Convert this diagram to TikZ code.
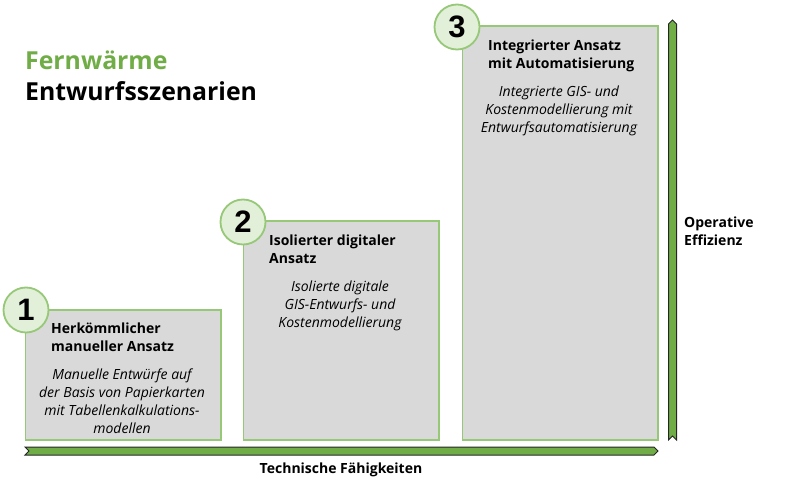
\documentclass[tikz,border=0pt]{standalone}
\usepackage{fontspec}
\setmainfont{Open Sans}
\newfontfamily\numfont{Liberation Sans}
\usetikzlibrary{calc,positioning}
\definecolor{barGreen}{RGB}{112,173,71}
\definecolor{boxLine}{RGB}{150,200,120}
\definecolor{boxFill}{RGB}{217,217,217}
\definecolor{circFill}{RGB}{226,240,217}
\tikzset{
	stage/.style={draw=boxLine,fill=boxFill,line width=1.8pt,anchor=north west,inner sep=0pt,outer sep=0pt},
	badge/.style={circle,draw=boxLine,fill=circFill,line width=1.8pt,minimum size=45pt,inner sep=0pt,font=\fontsize{31}{31}\selectfont\numfont\bfseries},
	heading/.style={anchor=north west,inner sep=0pt,align=left,font=\fontsize{14}{18}\selectfont\bfseries},
	detail/.style={anchor=north,inner sep=0pt,align=center,font=\fontsize{14}{18}\selectfont\itshape},
	axislabel/.style={inner sep=0pt,align=left,font=\fontsize{14}{18}\selectfont\bfseries},
	bar/.style={draw=black!85,fill=barGreen,line width=1pt,line join=miter}
}
\begin{document}
\begin{tikzpicture}[x=1pt,y=-1pt]
	\useasboundingbox (0,0) rectangle (790,492);
	\node [anchor=west,inner sep=0pt,text=barGreen,font=\fontsize{24.8}{26}\selectfont\bfseries] (fern) at (25,60) {Fernwärme};
	\node [anchor=west,inner sep=0pt,font=\fontsize{24.8}{26}\selectfont\bfseries] (szen) at (25,91) {Entwurfsszenarien};
	% stages
	\node [stage,minimum width=195.5pt,minimum height=130pt] (box1) at (25.5,310) {};
	\node [stage,minimum width=195.5pt,minimum height=219pt] (box2) at (243.5,221) {};
	\node [stage,minimum width=195.5pt,minimum height=414pt] (box3) at (462.5,26) {};
	\node [badge] (num1) at (26,310) {1};
	\node [badge] (num2) at (243,222) {2};
	\node [badge] (num3) at (457,27) {3};
	\node [heading] (head1) at (51,323) {Herkömmlicher\\manueller Ansatz};
	\node [heading] (head2) at (269,235) {Isolierter digitaler\\Ansatz};
	\node [heading] (head3) at (488,40) {Integrierter Ansatz\\mit Automatisierung};
	\node [detail] (text1) at (122,369) {Manuelle Entwürfe auf\\der Basis von Papierkarten\\mit Tabellenkalkulations-\\modellen};
	\node [detail] (text2) at (340,281) {Isolierte digitale\\GIS-Entwurfs- und\\Kostenmodellierung};
	\node [detail] (text3) at (559,86) {Integrierte GIS- und\\Kostenmodellierung mit\\Entwurfsautomatisierung};
	% axes
	\draw [bar] (25,447) -- (654,447) -- (658,451) -- (654,455) -- (25,455) -- (29,451) -- cycle;
	\draw [bar] (668.5,440) -- (668.5,24) -- (672.5,20) -- (676.5,24) -- (676.5,440) -- (672.5,436) -- cycle;
	\node [axislabel] (xlabel) at (341,470) {Technische Fähigkeiten};
	\node [axislabel,anchor=north west] (ylabel) at (684,216.5) {Operative\\Effizienz};
\end{tikzpicture}
\end{document}
